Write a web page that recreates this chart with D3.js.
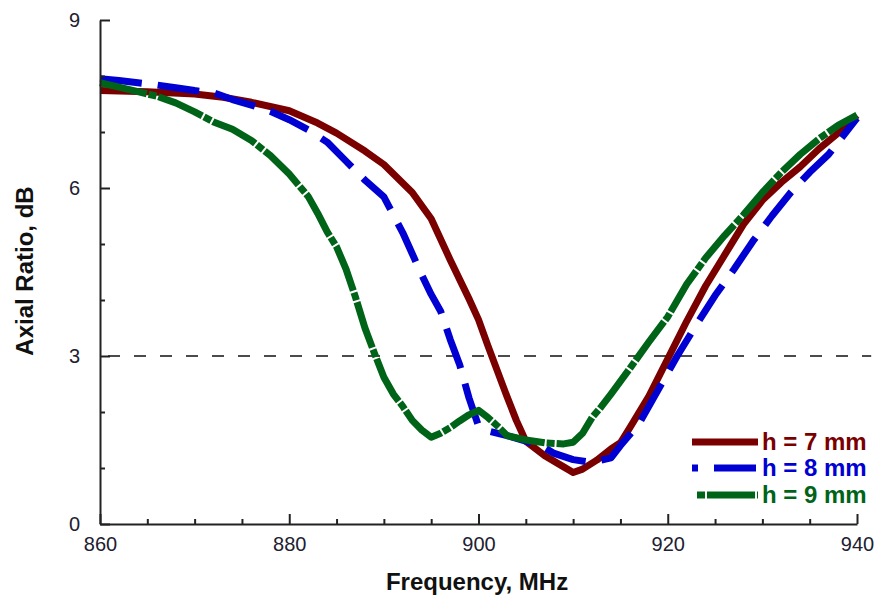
<!DOCTYPE html>
<html>
<head>
<meta charset="utf-8">
<script src="https://cdn.jsdelivr.net/npm/d3@7"></script>
<style>
  html, body { margin: 0; padding: 0; background: #fff; }
  svg { display: block; font-family: "Liberation Sans", Arial, sans-serif; }
</style>
</head>
<body>
<svg id="chart" width="877" height="598"></svg>
<script>
// Axial ratio vs frequency for three substrate heights
const freq7 = [860,865,870,873,876,880,883,885,888,890,893,895,897,899,900,901,903,904,905,907,909,910,911,912.5,914,915,916,918,920,922,924,926,928,930,932,934,936,938,940];
const ar7   = [7.74,7.72,7.68,7.62,7.53,7.38,7.16,6.98,6.66,6.42,5.92,5.45,4.72,4.02,3.65,3.18,2.28,1.85,1.48,1.22,1.02,0.92,0.98,1.14,1.34,1.45,1.72,2.28,2.95,3.62,4.25,4.80,5.35,5.78,6.10,6.38,6.70,6.98,7.30];

const freq8 = [860,862,864,866,868,870,872,874,876,878,880,882,884,886,888,890,892,894,895,896,897,898,899,900,901,903,905,907,908,910,912,914,915,917,919,921,923,925,927,929,931,933,935,937,940];
const ar8   = [7.95,7.92,7.88,7.84,7.79,7.74,7.70,7.58,7.48,7.37,7.22,7.04,6.82,6.48,6.14,5.84,5.20,4.45,4.10,3.80,3.30,2.85,2.25,1.75,1.66,1.58,1.48,1.36,1.26,1.15,1.10,1.18,1.40,1.80,2.40,3.00,3.55,4.08,4.55,5.05,5.50,5.92,6.28,6.60,7.25];

const freq9 = [860,862,864,866,868,870,872,874,876,878,880,882,883,884,885,886,887,888,889,890,891,892,893,894,895,896,897,898,899,900,901,902,903,905,907,909,910,911,912,913,914,916,918,920,922,924,926,928,930,932,934,936,938,940];
const ar9   = [7.88,7.80,7.72,7.64,7.52,7.36,7.18,7.05,6.85,6.58,6.25,5.85,5.55,5.22,4.95,4.55,4.05,3.50,3.05,2.62,2.32,2.10,1.85,1.68,1.55,1.62,1.72,1.84,1.95,2.03,1.90,1.75,1.58,1.50,1.45,1.43,1.46,1.62,1.90,2.10,2.32,2.78,3.25,3.70,4.28,4.75,5.15,5.52,5.92,6.28,6.60,6.88,7.12,7.30];

const seriesNames = ["h = 7 mm", "h = 8 mm", "h = 9 mm"];
const seriesColors = ["#7a0000", "#0000d2", "#006418"];
const seriesDash = [null, "42,16", "48,2,8,2"];
const legendDashOffset = [0, 36, 50];

const xTicks = [860, 880, 900, 920, 940];
const xMinorTicks = [865, 870, 875, 885, 890, 895, 905, 910, 915, 925, 930, 935];
const yTicks = [0, 3, 6, 9];
const yMinorTicks = [1, 2, 4, 5, 7, 8];
const thresholdAR = 3;
const thresholdSpan = [860, 941.5];

const xTitle = "Frequency, MHz";
const yTitle = "Axial Ratio, dB";

const svg = d3.select("#chart");
const x = d3.scaleLinear().domain([860, 940]).range([100, 857]);
const y = d3.scaleLinear().domain([0, 9]).range([524, 20]);

const series = [
  freq7.map((f, i) => ({ f, v: ar7[i] })),
  freq8.map((f, i) => ({ f, v: ar8[i] })),
  freq9.map((f, i) => ({ f, v: ar9[i] }))
];

// 3 dB reference line
svg.append("line")
  .attr("x1", x(thresholdSpan[0])).attr("x2", x(thresholdSpan[1]))
  .attr("y1", y(thresholdAR)).attr("y2", y(thresholdAR))
  .attr("stroke", "#111").attr("stroke-width", 1.6)
  .attr("stroke-dasharray", "12,14").attr("stroke-dashoffset", -8);

// curves
const line = d3.line().x(d => x(d.f)).y(d => y(d.v));
series.forEach((s, i) => {
  svg.append("path")
    .datum(s)
    .attr("d", line)
    .attr("fill", "none")
    .attr("stroke", seriesColors[i])
    .attr("stroke-width", 7)
    .attr("stroke-linejoin", "round")
    .attr("stroke-dasharray", seriesDash[i]);
});

// axes
function styleAxis(g) {
  g.selectAll("path.domain").attr("stroke", "#222").attr("stroke-width", 2);
  g.selectAll(".tick line").attr("stroke", "#222").attr("stroke-width", 2);
  g.selectAll(".tick text").attr("fill", "#202030").attr("font-size", 20);
}

const xAxis = svg.append("g").attr("transform", `translate(0,${y(0)})`)
  .call(d3.axisBottom(x).tickValues(xTicks).tickFormat(d3.format("d"))
    .tickSizeInner(-10).tickSizeOuter(0).tickPadding(13));
styleAxis(xAxis);

const xMinor = svg.append("g").attr("transform", `translate(0,${y(0)})`)
  .call(d3.axisBottom(x).tickValues(xMinorTicks).tickFormat("")
    .tickSizeInner(-5).tickSizeOuter(0));
styleAxis(xMinor);
xMinor.select("path.domain").remove();

const yAxis = svg.append("g").attr("transform", `translate(${x(860)},0)`)
  .call(d3.axisLeft(y).tickValues(yTicks).tickFormat(d3.format("d"))
    .tickSizeInner(-10).tickSizeOuter(0).tickPadding(20));
styleAxis(yAxis);

const yMinor = svg.append("g").attr("transform", `translate(${x(860)},0)`)
  .call(d3.axisLeft(y).tickValues(yMinorTicks).tickFormat("")
    .tickSizeInner(-5).tickSizeOuter(0));
styleAxis(yMinor);
yMinor.select("path.domain").remove();

// axis titles
svg.append("text")
  .attr("x", 477).attr("y", 590)
  .attr("text-anchor", "middle")
  .attr("font-weight", "bold").attr("font-size", 24)
  .attr("fill", "#111")
  .text(xTitle);

svg.append("text")
  .attr("transform", `translate(33,271) rotate(-90)`)
  .attr("text-anchor", "middle")
  .attr("font-weight", "bold").attr("font-size", 24)
  .attr("fill", "#111")
  .text(yTitle);

// legend
const legendRows = [442, 468, 495];
const legendStart = [692, 692, 697];
const legendEnd = 758;
seriesNames.forEach((name, i) => {
  svg.append("line")
    .attr("x1", legendStart[i]).attr("x2", legendEnd)
    .attr("y1", legendRows[i]).attr("y2", legendRows[i])
    .attr("stroke", seriesColors[i]).attr("stroke-width", 7)
    .attr("stroke-dasharray", seriesDash[i])
    .attr("stroke-dashoffset", legendDashOffset[i]);
  svg.append("text")
    .attr("x", 762).attr("y", legendRows[i] + 8)
    .attr("font-weight", "bold").attr("font-size", 24)
    .attr("fill", seriesColors[i])
    .text(name);
});
</script>
</body>
</html>
